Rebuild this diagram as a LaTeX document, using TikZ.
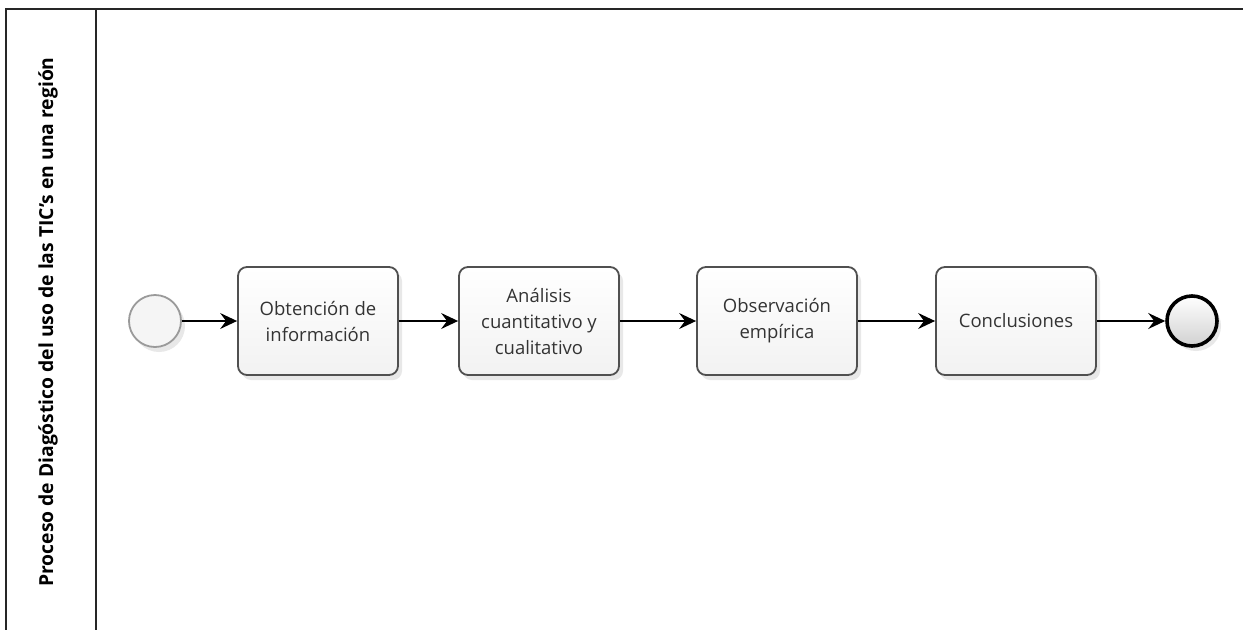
\documentclass[tikz,border=0pt]{standalone}
\usepackage{fontspec}
\setmainfont{Open Sans}
\usetikzlibrary{arrows.meta,shadows}
\definecolor{boxline}{HTML}{505050}
\definecolor{startline}{HTML}{9A9A9A}
\definecolor{boxfill}{HTML}{F2F2F2}
\begin{document}
\begin{tikzpicture}[x=1pt,y=-1pt,every node/.style={font=\fontsize{18.5}{26}\selectfont},
  task/.style={draw=boxline,line width=1.8pt,rounded corners=9pt,top color=white,bottom color=boxfill,
    minimum width=160pt,minimum height=108pt,align=center,text=black!80,
    drop shadow={shadow xshift=4pt,shadow yshift=-5pt,opacity=.18}},
  flow/.style={-{Stealth[length=17pt,width=16pt,inset=6pt]},line width=1.4pt}]
\useasboundingbox (0,0) rectangle (1243,630);
% pool and lane
\draw[line width=2pt,black!85] (1243,9) -- (6,9) -- (6,630);
\draw[line width=2pt,black!85] (96,9) -- (96,630);
\node[rotate=90,font=\bfseries\fontsize{19.3}{23}\selectfont] (lane) at (48,322) {Proceso de Diagóstico del uso de las TIC's en una región};
% events and tasks
\node[circle,draw=startline,line width=1.8pt,fill=black!4,minimum size=52pt,
  drop shadow={shadow xshift=4pt,shadow yshift=-5pt,opacity=.18}] (start) at (155,321) {};
\node[task] (t1) at (318,321) {Obtención de\\ información};
\node[task] (t2) at (539,321) {Análisis\\ cuantitativo y\\ cualitativo};
\node[task] (t3) at (777,321) {Observación\\ empírica};
\node[task] (t4) at (1016,321) {Conclusiones};
\node[circle,draw=black,line width=3.6pt,top color=white,bottom color=black!18,minimum size=50pt,
  drop shadow={shadow xshift=4pt,shadow yshift=-5pt,opacity=.18}] (end) at (1192,321) {};
\draw[flow] (start) -- (t1);
\draw[flow] (t1) -- (t2);
\draw[flow] (t2) -- (t3);
\draw[flow] (t3) -- (t4);
\draw[flow] (t4) -- (end);
\end{tikzpicture}
\end{document}
